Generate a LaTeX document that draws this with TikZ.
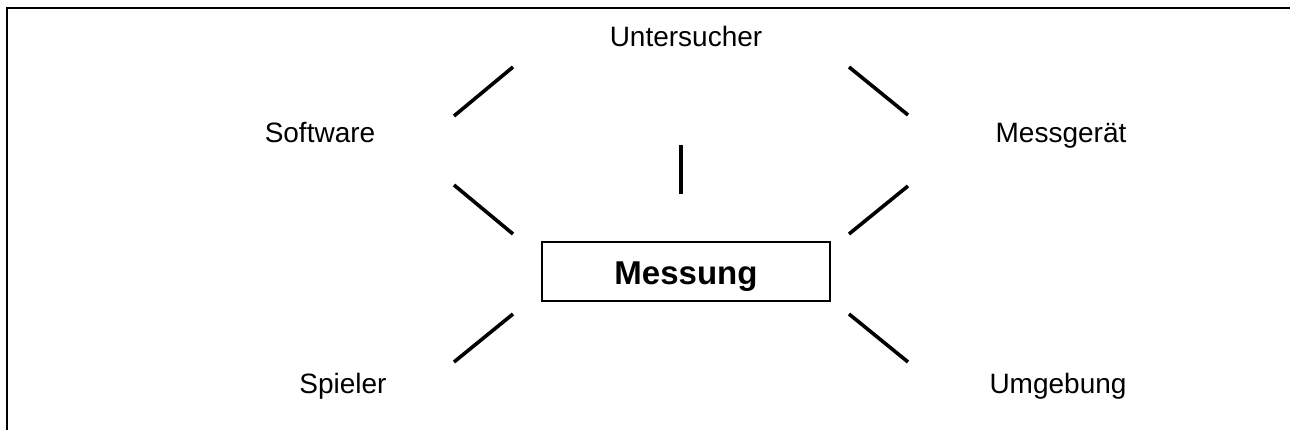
\documentclass[tikz,border=0pt]{standalone}
\usepackage{fontspec}
\setmainfont{Liberation Sans}
\begin{document}
\begin{tikzpicture}[x=1pt,y=-1pt,
  lbl/.style={anchor=base,inner sep=0pt,font=\fontsize{28}{34}\selectfont},
  spoke/.style={line width=3.6pt},
  frameline/.style={line width=2.2pt}]
\useasboundingbox (0,0) rectangle (1290,430);
% frame
\draw[frameline] (7,430) -- (7,8) -- (1290,8);
% central box
\node[draw,line width=1.8pt,minimum width=288pt,minimum height=59pt,inner sep=0pt] (mess) at (686,271.5) {};
\node[lbl,font=\fontsize{33}{40}\selectfont\bfseries] (messt) at (686,285) {Messung};
% labels
\node[lbl] (unt) at (686,47) {Untersucher};
\node[lbl] (soft) at (320,143) {Software};
\node[lbl] (mg) at (1061,143) {Messgerät};
\node[lbl] (sp) at (343,393) {Spieler};
\node[lbl] (umg) at (1058,393) {Umgebung};
% spoke endpoints
\coordinate (a1) at (454,116); \coordinate (a2) at (513,67);
\coordinate (b1) at (454,185); \coordinate (b2) at (513,234);
\coordinate (c1) at (454,362); \coordinate (c2) at (513,314);
\coordinate (d1) at (849,67);  \coordinate (d2) at (908,115);
\coordinate (e1) at (849,234); \coordinate (e2) at (908,186);
\coordinate (f1) at (849,314); \coordinate (f2) at (908,362);
\coordinate (g1) at (681,145); \coordinate (g2) at (681,194);
\draw[spoke] (a1) -- (a2);
\draw[spoke] (b1) -- (b2);
\draw[spoke] (c1) -- (c2);
\draw[spoke] (d1) -- (d2);
\draw[spoke] (e1) -- (e2);
\draw[spoke] (f1) -- (f2);
\draw[line width=4.5pt] (g1) -- (g2);
\end{tikzpicture}
\end{document}
